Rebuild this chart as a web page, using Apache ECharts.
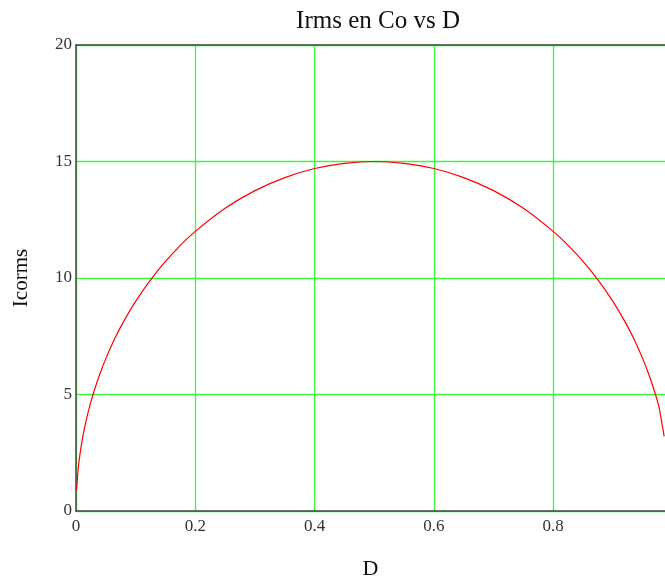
<!DOCTYPE html>
<html>
<head>
<meta charset="utf-8">
<script src="https://cdn.jsdelivr.net/npm/echarts@6/dist/echarts.min.js"></script>
<style>
  html, body { margin: 0; padding: 0; background: #fff; }
  #chart { width: 665px; height: 578px; }
</style>
</head>
<body>
<div id="chart"></div>
<script>
// duty cycle D and Icorms
var dutyD = [0.001, 0.004, 0.008, 0.012, 0.017, 0.023, 0.03, 0.04, 0.05, 0.065, 0.08, 0.1, 0.125, 0.15, 0.175,
  0.2, 0.25, 0.3, 0.35, 0.4, 0.45, 0.5, 0.55, 0.6, 0.65, 0.7, 0.75, 0.8, 0.825, 0.85, 0.875,
  0.9, 0.92, 0.935, 0.95, 0.96, 0.97, 0.977, 0.982, 0.986];
var icorms = [0.9, 1.9, 2.67, 3.27, 3.88, 4.5, 5.12, 5.88, 6.54, 7.4, 8.14, 9.0, 9.92, 10.71, 11.4,
  12.0, 12.99, 13.75, 14.31, 14.7, 14.92, 15.0, 14.92, 14.7, 14.31, 13.75, 12.99, 12.0, 11.4, 10.71, 9.92,
  9.0, 8.14, 7.4, 6.54, 5.88, 5.12, 4.5, 3.8, 3.2];
var xTicks = [0, 0.2, 0.4, 0.6, 0.8];
var yTicks = [0, 5, 10, 15, 20];
var xEnd = 0.9874; // plot is cut off at the right edge of the picture

var chart = echarts.init(document.getElementById('chart'));
var serif = 'Liberation Serif, Times New Roman, serif';
var pts = [];
for (var i = 0; i < dutyD.length; i++) pts.push([dutyD[i], icorms[i]]);

var option = {
  animation: false,
  backgroundColor: '#fff',
  title: {
    text: 'Irms en Co vs D',
    left: 373, top: 4, textAlign: 'center',
    textStyle: { fontFamily: serif, fontSize: 25, fontWeight: 'normal', color: '#111' }
  },
  grid: { left: 76, top: 45, right: 0, bottom: 67, outerBoundsMode: 'none', containLabel: false },
  xAxis: [{
    type: 'value', min: 0, max: xEnd, interval: 0.2,
    name: 'D', nameLocation: 'middle', nameGap: 47,
    nameTextStyle: { fontFamily: serif, fontSize: 22, color: '#111' },
    axisLine: { lineStyle: { color: '#444', width: 1.5 } },
    axisTick: { show: false },
    axisLabel: { fontFamily: serif, fontSize: 17, color: '#333', margin: 7, showMaxLabel: false,
      formatter: function (v) { return xTicks.indexOf(+v.toFixed(1)) >= 0 && Math.abs(v - (+v.toFixed(1))) < 1e-6 ? String(+v.toFixed(1)) : ''; } },
    splitLine: { show: true, showMaxLine: false, lineStyle: { color: '#3df53d', width: 1.3 } }
  }, {
    type: 'value', position: 'top', min: 0, max: xEnd,
    axisLine: { show: true, lineStyle: { color: '#444', width: 1.5 } },
    axisTick: { show: false }, axisLabel: { show: false }, splitLine: { show: false }
  }],
  yAxis: {
    type: 'value', min: yTicks[0], max: yTicks[yTicks.length - 1], interval: 5,
    name: 'Icorms', nameLocation: 'middle', nameGap: 44, nameRotate: 90,
    nameTextStyle: { fontFamily: serif, fontSize: 21, color: '#111' },
    axisLine: { show: true, lineStyle: { color: '#444', width: 1.5 } },
    axisTick: { show: false },
    axisLabel: { fontFamily: serif, fontSize: 17, color: '#333', margin: 4 },
    splitLine: { show: true, lineStyle: { color: '#3df53d', width: 1.3 } }
  },
  series: [{
    type: 'line',
    data: pts,
    smooth: 0.3,
    showSymbol: false,
    lineStyle: { color: '#ff0000', width: 1.2 }
  }]
};
chart.setOption(option);
</script>
</body>
</html>
